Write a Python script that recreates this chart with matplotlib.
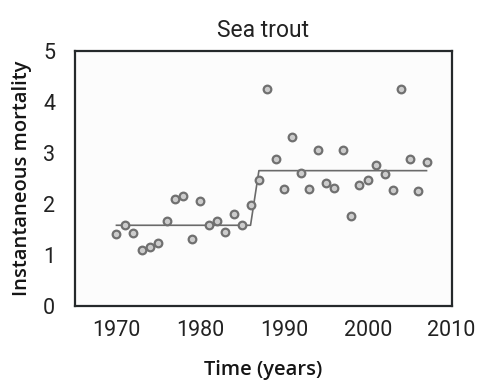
import matplotlib.pyplot as plt

# annual estimates of instantaneous mortality
years = list(range(1970, 2008))
mortality = [1.41, 1.58, 1.42, 1.10, 1.15, 1.24, 1.67, 2.09, 2.16, 1.31,
             2.05, 1.59, 1.67, 1.44, 1.80, 1.58, 1.98, 2.46, 4.24, 2.88,
             2.29, 3.30, 2.61, 2.29, 3.05, 2.41, 2.31, 3.05, 1.77, 2.36,
             2.46, 2.76, 2.58, 2.27, 4.24, 2.88, 2.26, 2.81]

# step fit (regime shift in 1986/87)
fit_years = [1970, 1986, 1987, 2007]
fit_values = [1.58, 1.58, 2.65, 2.65]

plt.rcParams['font.family'] = ['Roboto', 'DejaVu Sans']

fig = plt.figure(figsize=(4.81, 3.81), dpi=100)
ax = fig.add_axes([0.155, 0.197, 0.784, 0.670])
ax.set_facecolor('#fcfcfc')

ax.plot(fit_years, fit_values, color='#6a6a6a', linewidth=1.2, zorder=2)
ax.plot(years, mortality, linestyle='none', marker='o', markersize=5.5,
        markerfacecolor='#cccccc', markeredgecolor='#707070',
        markeredgewidth=1.6, zorder=3)

ax.set_xlim(1965, 2010)
ax.set_ylim(0, 5)
ax.set_xticks([1970, 1980, 1990, 2000, 2010])
ax.set_yticks([0, 1, 2, 3, 4, 5])
ax.tick_params(length=0, labelsize=15.5, colors='#222222')
ax.tick_params(axis='y', pad=14)
ax.tick_params(axis='x', pad=10)

for s in ax.spines.values():
    s.set_color('#25292b')
    s.set_linewidth(1.6)

label_font = dict(family=['Open Sans', 'DejaVu Sans'], size=14.5,
                  weight='semibold', color='#151515')
ax.set_title('Sea trout', fontsize=16.5, color='#222222', pad=10)
ax.set_xlabel('Time (years)', labelpad=14, **label_font)
ax.set_ylabel('Instantaneous mortality', labelpad=8, **label_font)

fig.savefig('out.png', dpi=100)
